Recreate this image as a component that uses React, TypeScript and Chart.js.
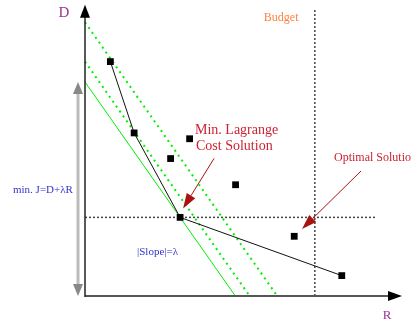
import { useEffect, useRef } from "react";
import { Chart, registerables } from "chart.js";

Chart.register(...registerables);

// Operating points: rate R and distortion D
const RATE = [0.8, 1.55, 3.3, 2.7, 4.75, 3.0, 6.6, 8.1];
const DIST = [8.05, 5.6, 5.4, 4.72, 3.82, 2.7, 2.05, 0.7];

// Lower convex hull of the operating points
const HULL_RATE = [0.8, 1.55, 3.0, 8.1];
const HULL_DIST = [8.05, 5.6, 2.7, 0.7];

// Lagrange multiplier and the cost levels J = D + λR that are drawn
const LAMBDA = 1.55;
const COST_LEVELS = [7.35, 8.05, 9.4];

// Index of the point with minimum Lagrange cost
const MIN_INDEX = 5;

const BUDGET_RATE = 7.25;
const AXIS_MAX = 10;
const THRESHOLD_END = 9.2;

const SERIF = '"Liberation Serif", "DejaVu Serif", serif';

function costLine(j: number) {
  return [
    { x: 0, y: j },
    { x: j / LAMBDA, y: 0 },
  ];
}

function arrow(
  ctx: CanvasRenderingContext2D,
  x1: number,
  y1: number,
  x2: number,
  y2: number,
  color: string,
  headLen: number,
  headHalf: number,
  width: number
) {
  const ang = Math.atan2(y2 - y1, x2 - x1);
  const bx = x2 - headLen * Math.cos(ang);
  const by = y2 - headLen * Math.sin(ang);
  ctx.save();
  ctx.strokeStyle = color;
  ctx.fillStyle = color;
  ctx.lineWidth = width;
  ctx.beginPath();
  ctx.moveTo(x1, y1);
  ctx.lineTo(bx, by);
  ctx.stroke();
  ctx.beginPath();
  ctx.moveTo(x2, y2);
  ctx.lineTo(bx + headHalf * Math.sin(ang), by - headHalf * Math.cos(ang));
  ctx.lineTo(bx - headHalf * Math.sin(ang), by + headHalf * Math.cos(ang));
  ctx.closePath();
  ctx.fill();
  ctx.restore();
}

function text(
  ctx: CanvasRenderingContext2D,
  s: string,
  x: number,
  y: number,
  size: number,
  color: string,
  align: CanvasTextAlign = "left"
) {
  ctx.save();
  ctx.font = `${size}px ${SERIF}`;
  ctx.fillStyle = color;
  ctx.textAlign = align;
  ctx.textBaseline = "middle";
  ctx.fillText(s, x, y);
  ctx.restore();
}

const decorations = {
  id: "rdDecorations",
  afterDatasetsDraw(chart: Chart) {
    const ctx = chart.ctx;
    const xs = chart.scales.x;
    const ys = chart.scales.y;
    const px = (v: number) => xs.getPixelForValue(v);
    const py = (v: number) => ys.getPixelForValue(v);
    const x0 = px(0);
    const y0 = py(0);

    // x axis (R)
    ctx.save();
    ctx.strokeStyle = "#555";
    ctx.lineWidth = 2;
    ctx.beginPath();
    ctx.moveTo(x0, y0);
    ctx.lineTo(px(AXIS_MAX) - 12, y0);
    ctx.stroke();
    ctx.fillStyle = "#000";
    ctx.beginPath();
    ctx.moveTo(px(AXIS_MAX), y0);
    ctx.lineTo(px(AXIS_MAX) - 14, y0 - 5);
    ctx.lineTo(px(AXIS_MAX) - 14, y0 + 5);
    ctx.closePath();
    ctx.fill();

    // y axis (D)
    ctx.strokeStyle = "#222";
    ctx.lineWidth = 1.5;
    ctx.beginPath();
    ctx.moveTo(x0, y0 + 1);
    ctx.lineTo(x0, py(AXIS_MAX) + 12);
    ctx.stroke();
    ctx.beginPath();
    ctx.moveTo(x0, py(AXIS_MAX));
    ctx.lineTo(x0 - 5, py(AXIS_MAX) + 13);
    ctx.lineTo(x0 + 5, py(AXIS_MAX) + 13);
    ctx.closePath();
    ctx.fill();
    ctx.restore();

    // double-headed arrow showing the minimum cost J on the D axis
    const jMin = COST_LEVELS[0];
    const ax = x0 - 7;
    const top = py(jMin);
    ctx.save();
    ctx.strokeStyle = "#bbb";
    ctx.lineWidth = 3;
    ctx.beginPath();
    ctx.moveTo(ax, top + 10);
    ctx.lineTo(ax, y0 - 10);
    ctx.stroke();
    ctx.fillStyle = "#888";
    ctx.beginPath();
    ctx.moveTo(ax, top);
    ctx.lineTo(ax - 5, top + 12);
    ctx.lineTo(ax + 5, top + 12);
    ctx.closePath();
    ctx.fill();
    ctx.beginPath();
    ctx.moveTo(ax, y0);
    ctx.lineTo(ax - 5, y0 - 12);
    ctx.lineTo(ax + 5, y0 - 12);
    ctx.closePath();
    ctx.fill();
    ctx.restore();

    // callout arrows
    const mx = px(RATE[MIN_INDEX]);
    const my = py(DIST[MIN_INDEX]);
    arrow(ctx, mx + 34, my - 59, mx + 3, my - 9, "#aa1111", 15, 5, 1);
    arrow(ctx, 361, 171, 302, 229, "#aa1111", 15, 5, 1);

    // labels
    text(ctx, "D", x0 - 21, 13, 15, "#993399", "center");
    text(ctx, "R", 387, 316, 13, "#993399", "center");
    text(ctx, "Budget", px(BUDGET_RATE) - 51, 18, 12, "#ff8040");
    text(ctx, "Min. Lagrange", 195, 130, 14, "#cc2233");
    text(ctx, "Cost Solution", 196, 146, 14, "#cc2233");
    text(ctx, "Optimal Solution", 334, 158, 12, "#cc2233");
    text(ctx, "min. J=D+\u03bbR", 13, 190, 11, "#3333cc");
    text(ctx, "|Slope|=\u03bb", 137, 252, 11, "#3333cc");
  },
};

export default function App() {
  const ref = useRef<HTMLCanvasElement | null>(null);

  useEffect(() => {
    if (!ref.current) return;
    const points = RATE.map((r, i) => ({ x: r, y: DIST[i] }));
    const hull = HULL_RATE.map((r, i) => ({ x: r, y: HULL_DIST[i] }));
    const dMin = DIST[MIN_INDEX];

    const chart = new Chart(ref.current, {
      type: "scatter",
      data: {
        datasets: [
          {
            label: "points",
            data: points,
            pointStyle: "rect",
            pointRadius: 4.8,
            pointBorderWidth: 0,
            backgroundColor: "#000",
            borderColor: "#000",
            showLine: false,
            order: 0,
          },
          {
            label: "hull",
            data: hull,
            showLine: true,
            borderColor: "#111",
            borderWidth: 1,
            pointRadius: 0,
            order: 1,
          },
          {
            label: "J min",
            data: costLine(COST_LEVELS[0]),
            showLine: true,
            borderColor: "#00ee00",
            borderWidth: 1,
            pointRadius: 0,
            order: 2,
          },
          ...COST_LEVELS.slice(1).map((j) => ({
            label: `J ${j}`,
            data: costLine(j),
            showLine: true,
            borderColor: "#00f000",
            borderWidth: 2,
            borderDash: [2, 4],
            pointRadius: 0,
            order: 3,
          })),
          {
            label: "threshold",
            data: [
              { x: 0, y: dMin },
              { x: THRESHOLD_END, y: dMin },
            ],
            showLine: true,
            borderColor: "#444",
            borderWidth: 1.5,
            borderDash: [2, 2],
            pointRadius: 0,
            order: 4,
          },
          {
            label: "budget",
            data: [
              { x: BUDGET_RATE, y: 0 },
              { x: BUDGET_RATE, y: 9.85 },
            ],
            showLine: true,
            borderColor: "#444",
            borderWidth: 1.5,
            borderDash: [2, 2],
            pointRadius: 0,
            order: 4,
          },
        ],
      },
      options: {
        responsive: false,
        animation: false,
        layout: { padding: { left: 85, right: 9, top: 0, bottom: 33 } },
        scales: {
          x: { type: "linear", min: 0, max: AXIS_MAX, display: false },
          y: { type: "linear", min: 0, max: AXIS_MAX, display: false },
        },
        plugins: {
          legend: { display: false },
          tooltip: { enabled: false },
        },
        elements: { line: { tension: 0 } },
        clip: false as any,
      },
      plugins: [decorations],
    });
    return () => chart.destroy();
  }, []);

  return (
    <div style={{ position: "fixed", left: 0, top: 0, width: 411, height: 329, background: "#fff" }}>
      <canvas ref={ref} width={411} height={329} />
    </div>
  );
}
